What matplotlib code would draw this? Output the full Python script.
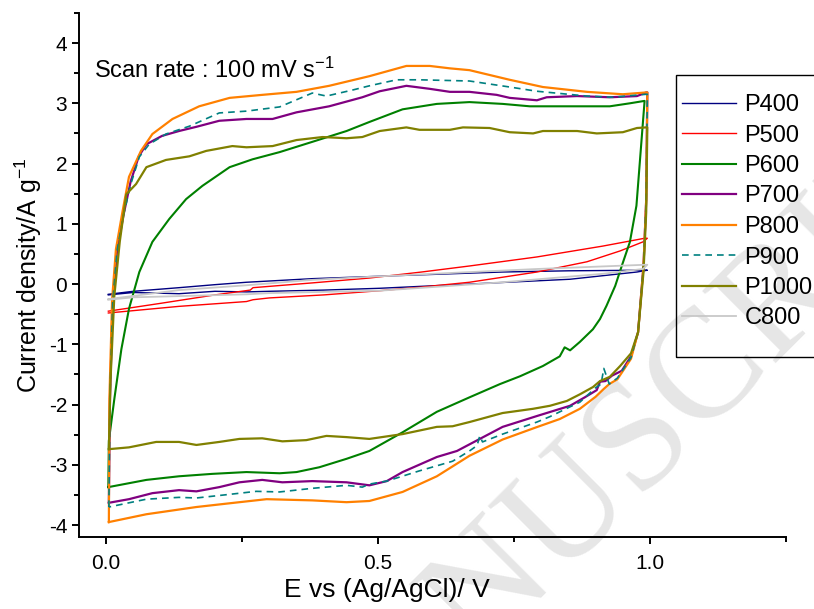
import matplotlib
matplotlib.use("Agg")
import matplotlib.pyplot as plt
from matplotlib.patches import Rectangle
from matplotlib.ticker import MultipleLocator

plt.rcParams['font.family'] = ['Liberation Sans', 'DejaVu Sans']
plt.rcParams['mathtext.fontset'] = 'custom'
plt.rcParams['mathtext.rm'] = 'Liberation Sans'
plt.rcParams['mathtext.it'] = 'Liberation Sans'
plt.rcParams['axes.unicode_minus'] = False

# CV loops: anodic sweep (0 -> 1 V) followed by cathodic sweep (1 -> 0 V)
p400_e = [0.004, 0.05, 0.134, 0.2, 0.258, 0.38, 0.503, 0.6, 0.729, 0.85, 0.99,
          0.995, 0.976, 0.853, 0.668, 0.503, 0.4, 0.3, 0.258, 0.2, 0.134, 0.05, 0.004]
p400_j = [-0.17, -0.12, -0.06, -0.01, 0.03, 0.09, 0.13, 0.16, 0.2, 0.22, 0.23,
          0.23, 0.2, 0.08, 0.0, -0.07, -0.1, -0.12, -0.13, -0.12, -0.16, -0.14, -0.18]

p500_e = [0.004, 0.1, 0.2, 0.265, 0.27, 0.38, 0.484, 0.58, 0.668, 0.792, 0.913, 0.99,
          0.995, 0.987, 0.945, 0.884, 0.792, 0.668, 0.58, 0.503, 0.4, 0.3, 0.27, 0.258, 0.134, 0.004]
p500_j = [-0.45, -0.32, -0.18, -0.1, -0.06, 0.02, 0.1, 0.2, 0.3, 0.45, 0.63, 0.76,
          0.76, 0.7, 0.55, 0.37, 0.2, 0.03, -0.05, -0.11, -0.18, -0.23, -0.26, -0.29, -0.37, -0.48]

p600_e = [0.004, 0.005, 0.015, 0.028, 0.042, 0.061, 0.085, 0.116, 0.147, 0.177, 0.227,
          0.269, 0.319, 0.379, 0.442, 0.484, 0.545, 0.608, 0.668, 0.729, 0.779, 0.853,
          0.926, 0.963, 0.99,
          0.99, 0.975, 0.963, 0.948, 0.936, 0.92, 0.908, 0.895, 0.871, 0.853, 0.843, 0.834,
          0.803, 0.761, 0.724, 0.668, 0.608, 0.545, 0.484, 0.442, 0.392, 0.35, 0.319,
          0.258, 0.195, 0.134, 0.074, 0.004]
p600_j = [-3.37, -2.6, -1.91, -1.08, -0.41, 0.2, 0.7, 1.08, 1.41, 1.63, 1.94,
          2.07, 2.19, 2.36, 2.54, 2.69, 2.9, 2.99, 3.02, 2.99, 2.95, 2.95,
          2.95, 3.0, 3.04,
          3.04, 1.3, 0.7, 0.3, -0.03, -0.36, -0.58, -0.75, -0.96, -1.1, -1.05, -1.2,
          -1.36, -1.53, -1.66, -1.88, -2.12, -2.46, -2.77, -2.9, -3.04, -3.12, -3.14,
          -3.12, -3.15, -3.19, -3.25, -3.37]

p700_e = [0.005, 0.007, 0.012, 0.02, 0.032, 0.045, 0.06, 0.074, 0.103, 0.134, 0.166,
          0.208, 0.258, 0.306, 0.35, 0.41, 0.471, 0.503, 0.552, 0.595, 0.632, 0.668,
          0.718, 0.742, 0.792, 0.81, 0.866, 0.926, 0.976, 0.993,
          0.995, 0.993, 0.988, 0.978, 0.965, 0.948, 0.93, 0.918, 0.908, 0.902, 0.88,
          0.853, 0.792, 0.729, 0.687, 0.645, 0.608, 0.545, 0.516, 0.484, 0.442, 0.379,
          0.324, 0.287, 0.245, 0.208, 0.166, 0.134, 0.085, 0.042, 0.005]
p700_j = [-3.63, -1.9, -0.3, 0.55, 1.15, 1.7, 2.12, 2.32, 2.46, 2.54, 2.61,
          2.71, 2.74, 2.74, 2.85, 2.95, 3.1, 3.2, 3.29, 3.24, 3.19, 3.19,
          3.14, 3.09, 3.05, 3.1, 3.12, 3.1, 3.12, 3.18,
          3.18, 1.4, 0.3, -0.8, -1.2, -1.44, -1.52, -1.61, -1.62, -1.76, -1.88,
          -2.02, -2.19, -2.37, -2.57, -2.77, -2.87, -3.12, -3.27, -3.34, -3.29, -3.27,
          -3.29, -3.25, -3.29, -3.37, -3.44, -3.42, -3.47, -3.57, -3.63]

p800_e = [0.005, 0.006, 0.011, 0.018, 0.03, 0.042, 0.064, 0.085, 0.122, 0.171, 0.227,
          0.287, 0.35, 0.41, 0.484, 0.552, 0.595, 0.632, 0.668, 0.742, 0.803, 0.884,
          0.95, 0.993,
          0.995, 0.993, 0.988, 0.978, 0.965, 0.94, 0.925, 0.915, 0.9, 0.871, 0.834,
          0.79, 0.729, 0.668, 0.608, 0.545, 0.484, 0.442, 0.379, 0.295, 0.245, 0.166,
          0.074, 0.005]
p800_j = [-3.95, -1.9, -0.25, 0.58, 1.2, 1.78, 2.21, 2.49, 2.74, 2.95, 3.09,
          3.14, 3.19, 3.29, 3.45, 3.62, 3.62, 3.58, 3.55, 3.39, 3.27, 3.19,
          3.15, 3.18,
          3.18, 1.4, 0.3, -0.8, -1.24, -1.58, -1.66, -1.74, -1.87, -2.07, -2.24,
          -2.38, -2.58, -2.85, -3.19, -3.45, -3.6, -3.62, -3.59, -3.57, -3.62, -3.7,
          -3.82, -3.95]

p900_e = [0.005, 0.007, 0.012, 0.02, 0.032, 0.045, 0.061, 0.079, 0.11, 0.153, 0.208,
          0.258, 0.319, 0.379, 0.405, 0.453, 0.484, 0.534, 0.576, 0.668, 0.742, 0.792,
          0.884, 0.932, 0.993,
          0.995, 0.993, 0.988, 0.978, 0.965, 0.94, 0.925, 0.915, 0.91, 0.9, 0.871, 0.85,
          0.816, 0.792, 0.729, 0.692, 0.687, 0.682, 0.668, 0.637, 0.576, 0.516, 0.484,
          0.471, 0.442, 0.379, 0.319, 0.276, 0.227, 0.166, 0.134, 0.074, 0.005]
p900_j = [-3.7, -1.9, -0.3, 0.55, 1.15, 1.65, 2.11, 2.32, 2.49, 2.62, 2.84,
          2.87, 2.94, 3.17, 3.12, 3.22, 3.29, 3.39, 3.39, 3.37, 3.27, 3.2,
          3.12, 3.1, 3.15,
          3.15, 1.4, 0.3, -0.8, -1.22, -1.56, -1.66, -1.4, -1.66, -1.72, -1.96, -2.05,
          -2.2, -2.29, -2.49, -2.62, -2.52, -2.68, -2.77, -2.94, -3.1, -3.27, -3.32,
          -3.37, -3.34, -3.39, -3.45, -3.44, -3.49, -3.55, -3.54, -3.57, -3.7]

p1000_e = [0.005, 0.008, 0.015, 0.025, 0.037, 0.055, 0.074, 0.11, 0.153, 0.184, 0.232,
           0.258, 0.306, 0.35, 0.398, 0.442, 0.471, 0.503, 0.552, 0.576, 0.632, 0.656,
           0.705, 0.742, 0.785, 0.803, 0.866, 0.902, 0.95, 0.976, 0.993,
           0.995, 0.993, 0.988, 0.978, 0.965, 0.945, 0.926, 0.908, 0.895, 0.871, 0.847,
           0.816, 0.785, 0.729, 0.668, 0.637, 0.608, 0.545, 0.484, 0.442, 0.405, 0.368,
           0.324, 0.287, 0.245, 0.208, 0.166, 0.134, 0.092, 0.042, 0.005]
p1000_j = [-2.74, -1.6, -0.2, 0.7, 1.49, 1.66, 1.94, 2.06, 2.12, 2.21, 2.29,
           2.27, 2.29, 2.39, 2.44, 2.42, 2.44, 2.54, 2.6, 2.56, 2.56, 2.6,
           2.59, 2.52, 2.5, 2.54, 2.54, 2.5, 2.52, 2.59, 2.6,
           2.6, 1.2, 0.2, -0.8, -1.15, -1.36, -1.54, -1.61, -1.71, -1.83, -1.94,
           -2.02, -2.07, -2.14, -2.29, -2.36, -2.37, -2.49, -2.57, -2.54, -2.52, -2.59,
           -2.61, -2.56, -2.57, -2.62, -2.67, -2.62, -2.62, -2.71, -2.74]

c800_e = [0.004, 0.134, 0.258, 0.38, 0.484, 0.6, 0.792, 0.99,
          0.995, 0.987, 0.913, 0.729, 0.503, 0.4, 0.3, 0.258, 0.134, 0.05, 0.004]
c800_j = [-0.25, -0.1, -0.02, 0.07, 0.12, 0.17, 0.25, 0.32,
          0.32, 0.25, 0.17, 0.03, -0.11, -0.13, -0.15, -0.17, -0.2, -0.22, -0.26]

labels = ['P400', 'P500', 'P600', 'P700', 'P800', 'P900', 'P1000', 'C800']
colors = ['#000080', '#ff0000', '#008000', '#800080', '#ff8000', '#008080', '#808000', '#c8c8c8']
widths = [1.0, 1.0, 1.5, 1.6, 1.6, 1.2, 1.6, 1.3]

xs = [p400_e, p500_e, p600_e, p700_e, p800_e, p900_e, p1000_e, c800_e]
ys = [p400_j, p500_j, p600_j, p700_j, p800_j, p900_j, p1000_j, c800_j]

fig = plt.figure(figsize=(8.14, 6.09), dpi=100)

# faint watermark behind the plot (runs off the page like in the original)
fig.text(0.772, 0.258, 'MANUSCRIPT', fontsize=112, family='Liberation Serif',
         color='#e6e6e6', rotation=45, ha='center', va='center', zorder=-5)

ax = fig.add_axes([0.097, 0.118, 0.8686, 0.8608])
ax.patch.set_alpha(0)

for x, y, lab, c, lw in zip(xs, ys, labels, colors, widths):
    if lab == 'P900':
        ax.plot(x, y, color=c, lw=lw, ls=(0, (4, 3)), label=lab)
    else:
        ax.plot(x, y, color=c, lw=lw, label=lab)

ax.set_xlim(-0.05, 1.25)
ax.set_ylim(-4.2, 4.5)
ax.xaxis.set_major_locator(MultipleLocator(0.5))
ax.xaxis.set_minor_locator(MultipleLocator(0.25))
ax.yaxis.set_major_locator(MultipleLocator(1))
ax.yaxis.set_minor_locator(MultipleLocator(0.5))
ax.xaxis.set_major_formatter(matplotlib.ticker.FormatStrFormatter('%.1f'))

for s in ['top', 'right']:
    ax.spines[s].set_visible(False)
for s in ['left', 'bottom']:
    ax.spines[s].set_linewidth(1.4)
ax.tick_params(which='both', direction='out', width=1.4, labelsize=15)
ax.tick_params(which='major', length=5)
ax.tick_params(which='minor', length=3.5)
ax.tick_params(axis='x', pad=7)

ax.set_xlabel('E vs (Ag/AgCl)/ V', fontsize=19)
ax.set_ylabel('Current density/A g$^{-1}$', fontsize=18)
ax.xaxis.set_label_coords(0.435, -0.077)
ax.yaxis.set_label_coords(-0.05, 0.5)

ax.text(-0.022, 3.42, 'Scan rate : 100 mV s$^{-1}$', fontsize=17, va='baseline')

# legend frame runs off the right edge of the figure
fig.patches.append(Rectangle((676 / 814, 1 - 357 / 609), 0.2, (357 - 75) / 609,
                             transform=fig.transFigure, fill=False,
                             edgecolor='black', lw=1.0))
ax.legend(loc='upper left', bbox_to_anchor=(682 / 814, 1 - 94 / 609),
          bbox_transform=fig.transFigure, frameon=False, fontsize=17,
          borderpad=0, borderaxespad=0, handlelength=2.3, handletextpad=0.35,
          labelspacing=0.36)

fig.savefig('out.png', dpi=100)
